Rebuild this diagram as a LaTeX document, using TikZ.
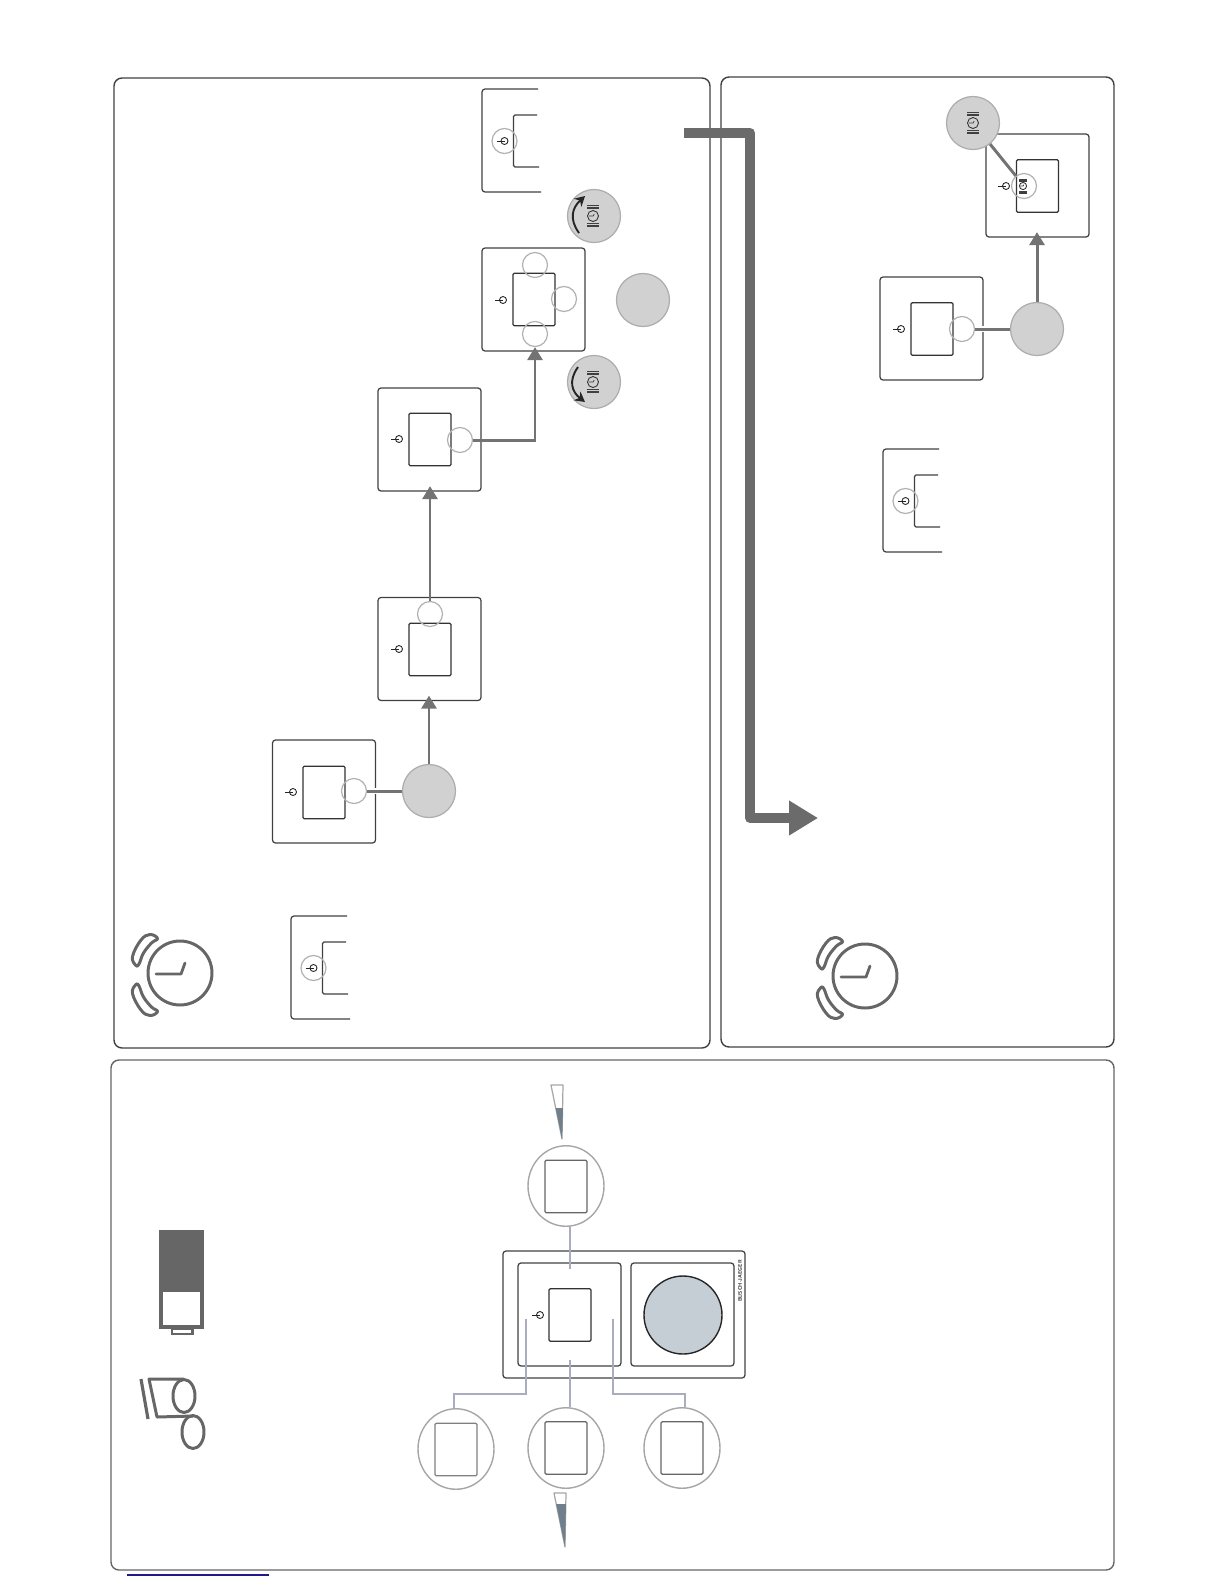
\documentclass[tikz,border=0pt]{standalone}
\usepackage{xcolor}
\usepackage{tikz}
\usetikzlibrary{arrows.meta,shapes.geometric,calc}
\definecolor{leadgray}{HTML}{A9ADBD}
\definecolor{capblue}{HTML}{C5CDD5}
\definecolor{wedgeblue}{HTML}{6F7F8C}
\definecolor{linkblue}{HTML}{1A1A8C}

\begin{document}
\begin{tikzpicture}[
    >=stealth,
    panel/.style={
        draw=black!75,
        rounded corners=0.8mm,
        line width=0.4pt,
        inner sep=0pt
    },
    frame/.style={
        draw=black!75,
        rounded corners=0.3mm,
        line width=0.35pt,
        minimum size=1.03cm,
        inner sep=0pt
    },
    screen/.style={
        draw=black!80,
        rounded corners=0.12mm,
        line width=0.35pt,
        minimum width=0.42cm,
        minimum height=0.525cm,
        inner sep=0pt
    },
    ring/.style={
        circle,
        draw=black!30,
        line width=0.35pt,
        minimum size=0.25cm,
        inner sep=0pt
    },
    dial/.style={
        circle,
        draw=black!32,
        fill=black!18,
        line width=0.35pt,
        minimum size=0.53cm,
        inner sep=0pt
    },
    lens/.style={
        ellipse,
        draw=black!35,
        line width=0.4pt,
        minimum width=0.76cm,
        minimum height=0.805cm,
        inner sep=0pt
    },
    conn/.style={draw=black!55, line width=0.85pt},
    halo/.style={conn, preaction={draw=white, line width=1.7pt}},
    arr/.style={conn, -{Triangle[length=1.3mm,width=1.5mm]}, shorten >=-0.55mm},
    bigarr/.style={
        draw=black!58,
        line width=2.9pt,
        line join=round,
        -{Triangle[length=2.9mm,width=3.3mm]}
    },
    lead/.style={draw=leadgray, line width=0.8pt},
    swing/.style={
        draw=black!85,
        line width=0.55pt,
        -{Stealth[length=1mm,width=1.1mm]}
    },
    icon/.style={draw=black!60, line width=0.85pt, line join=round},
    sliver/.style={draw=black!35, line width=0.35pt, line join=round},
    pwr/.pic={
        \draw[black!85, line width=0.25pt] (0,0) circle (0.035);
        \draw[black!85, line width=0.25pt] (-0.08,0) -- (0,0);
    },
    ringer/.pic={
        \draw[black!80, line width=0.25pt] (0,0) circle (0.055);
        \draw[black!80, line width=0.2pt] (-0.04,0) -- (0.002,0) -- (0.012,0.02);
        \foreach \t in {0.075,0.09,0.105}{
            \draw[black!75, line width=0.18pt] (-0.06,\t) -- (0.06,\t);
            \draw[black!75, line width=0.18pt] (-0.06,-\t) -- (0.06,-\t);
        }
    },
    stub/.pic={
        \draw[draw=black!75, line width=0.35pt, rounded corners=0.3mm]
            (0.56,0) -- (0,0) -- (0,-1.03) -- (0.59,-1.03);
        \draw[draw=black!75, line width=0.35pt, rounded corners=0.15mm]
            (0.55,-0.26) -- (0.315,-0.26) -- (0.315,-0.78) -- (0.57,-0.78);
        \draw[draw=black!30, line width=0.35pt] (0.225,-0.52) circle (0.125);
        \pic at (0.225,-0.52) {pwr};
    },
    alarm/.pic={
        \draw[icon] (0,0) circle (0.32);
        \draw[icon, line width=0.8pt, line cap=round] (-0.24,-0.01) -- (0.01,-0.01) -- (0.05,0.10);
        \draw[icon] plot[smooth cycle, tension=0.7] coordinates
            {(-0.30,0.385) (-0.39,0.33) (-0.475,0.165) (-0.44,0.075) (-0.41,0.09) (-0.365,0.20) (-0.285,0.30) (-0.225,0.345)};
        \draw[icon] plot[smooth cycle, tension=0.7] coordinates
            {(-0.30,-0.425) (-0.39,-0.37) (-0.475,-0.205) (-0.44,-0.115) (-0.41,-0.13) (-0.365,-0.24) (-0.285,-0.34) (-0.225,-0.385)};
    }
]
\useasboundingbox (0,0) rectangle (12.24,-15.84);

% panels
\node[panel, minimum width=5.96cm, minimum height=9.70cm] (panelleft) at (4.12,-5.63) {};
\node[panel, minimum width=3.93cm, minimum height=9.70cm] (panelright) at (9.175,-5.62) {};
\node[panel, draw=black!60, minimum width=10.03cm, minimum height=5.10cm] (panelbottom) at (6.125,-13.15) {};
\draw[linkblue, line width=0.3pt] (1.27,-15.75) -- (2.69,-15.75);

% left panel: steps
\pic at (4.82,-0.89) {stub};
\pic at (2.91,-9.16) {stub};
\pic at (1.80,-9.73) {alarm};

\node[frame] (sqa) at (3.24,-7.915) {};
\node[screen] (scra) at (3.24,-7.925) {};
\pic at (2.93,-7.92) {pwr};
\node[ring] (ringa) at (3.54,-7.91) {};
\node[dial] (diala) at (4.29,-7.91) {};

\node[frame] (sqb) at (4.295,-6.49) {};
\node[screen] (scrb) at (4.30,-6.495) {};
\pic at (3.99,-6.49) {pwr};
\node[ring] (ringb) at (4.30,-6.14) {};

\node[frame] (sqc) at (4.295,-4.395) {};
\node[screen] (scrc) at (4.30,-4.395) {};
\pic at (3.99,-4.39) {pwr};
\node[ring] (ringc) at (4.60,-4.40) {};

\node[frame] (sqd) at (5.335,-2.995) {};
\node[screen] (scrd) at (5.34,-2.995) {};
\pic at (5.03,-3.00) {pwr};
\node[ring] (ringd) at (5.35,-3.34) {};
\node[ring] (ringe) at (5.64,-2.99) {};
\node[ring] (ringf) at (5.35,-2.65) {};
\node[dial] (dialmid) at (6.43,-3.00) {};
\node[dial] (dialup) at (5.94,-2.16) {};
\node[dial] (dialdown) at (5.94,-3.82) {};
\pic at (5.93,-2.16) {ringer};
\pic at (5.93,-3.82) {ringer};
\draw[swing] (5.79,-2.33) .. controls (5.69,-2.19) and (5.72,-2.08) .. (5.85,-1.96);
\draw[swing] (5.78,-3.67) .. controls (5.68,-3.81) and (5.72,-3.92) .. (5.85,-4.02);

\draw[halo] (ringa) -- (diala);
\draw[arr] (diala.north) -- (diala.north |- sqb.south);
\draw[arr] (ringb.north) -- (ringb.north |- sqc.south);
\draw[arr, shorten >=0pt] (ringc.east) -| (ringd.south);

% big arrow between panels
\coordinate (jump) at (6.84,-1.33);
\coordinate (turn) at (7.50,-1.33);
\coordinate (next) at (8.18,-8.18);
\draw[bigarr] (jump) -- (turn) |- (next);

% right panel: steps
\pic at (8.83,-4.49) {stub};
\pic at (8.65,-9.76) {alarm};

\node[frame] (sqr) at (9.315,-3.285) {};
\node[screen] (scrr) at (9.32,-3.29) {};
\pic at (9.01,-3.29) {pwr};
\node[ring] (ringr) at (9.62,-3.29) {};
\node[dial] (dialr) at (10.37,-3.29) {};

\node[frame] (sqs) at (10.375,-1.855) {};
\node[screen] (scrs) at (10.375,-1.86) {};
\pic at (10.06,-1.86) {pwr};
\node[ring] (rings) at (10.24,-1.86) {};
\pic[scale=0.65] at (10.23,-1.86) {ringer};
\node[dial] (dials) at (9.73,-1.23) {};
\pic at (9.73,-1.23) {ringer};

\draw[halo] (ringr) -- (dialr);
\draw[arr] (dialr.north) -- (dialr.north |- sqs.south);
\draw[conn] (dials) -- (rings);

% bottom panel: battery and feet
\fill[black!60] (1.59,-12.30) rectangle (2.04,-12.90);
\draw[icon, line width=1.1pt, line join=miter] (1.61,-12.90) rectangle (2.02,-13.27);
\draw[icon, line width=0.6pt, line join=miter] (1.72,-13.29) rectangle (1.925,-13.34);
\draw[icon, line width=0.9pt] (1.41,-13.79) -- (1.48,-14.19);
\draw[icon] (1.84,-13.79) -- (1.49,-13.79) -- (1.57,-14.17) -- (1.93,-14.16);
\draw[icon] (1.84,-13.96) ellipse (0.11 and 0.165);
\draw[icon] (1.93,-14.32) ellipse (0.11 and 0.165);

% bottom panel: device
\node[frame, minimum width=2.42cm, minimum height=1.27cm] (case) at (6.24,-13.145) {};
\node[frame] (keyl) at (5.695,-13.145) {};
\node[screen] (scrl) at (5.70,-13.15) {};
\pic at (5.40,-13.15) {pwr};
\node[frame] (keyr) at (6.825,-13.145) {};
\node[circle, draw=black!85, fill=capblue, line width=0.4pt, minimum size=0.78cm, inner sep=0pt] (cap) at (6.83,-13.15) {};
\node[rotate=90, font=\sffamily\bfseries\fontsize{1.5}{1.7}\selectfont, inner sep=0pt, black!80] (brand) at (7.40,-12.81) {BUSCH-JAEGER};

\node[lens] (lenstop) at (5.66,-11.86) {};
\node[screen, draw=black!60] (scrtop) at (5.66,-11.865) {};
\node[lens] (lensleft) at (4.56,-14.49) {};
\node[screen, draw=black!50] (scrleft) at (4.56,-14.495) {};
\node[lens] (lensmid) at (5.66,-14.48) {};
\node[screen, draw=black!60] (scrmid) at (5.66,-14.48) {};
\node[lens] (lensright) at (6.82,-14.48) {};
\node[screen, draw=black!60] (scrright) at (6.82,-14.48) {};

\coordinate (tapa) at (5.70,-12.69);
\coordinate (tapb) at (5.70,-13.60);
\coordinate (tapc) at (5.26,-13.19);
\coordinate (tapd) at (6.13,-13.19);
\coordinate (kneel) at (4.54,-13.94);
\coordinate (kneer) at (6.85,-13.94);
\draw[lead] (tapa) -- (tapa |- lenstop.south);
\draw[lead] (tapb) -- (tapb |- lensmid.north);
\draw[lead] (tapc) |- (kneel) -- (kneel |- lensleft.north);
\draw[lead] (tapd) |- (kneer) -- (kneer |- lensright.north);

% wedges
\draw[sliver] (5.51,-10.85) -- (5.63,-10.85) -- (5.62,-11.39) -- cycle;
\fill[wedgeblue] (5.557,-11.08) -- (5.63,-11.08) -- (5.62,-11.39) -- cycle;
\draw[sliver] (5.54,-14.93) -- (5.66,-14.93) -- (5.65,-15.47) -- cycle;
\fill[wedgeblue] (5.562,-15.04) -- (5.66,-15.04) -- (5.65,-15.47) -- cycle;

\end{tikzpicture}
\end{document}
